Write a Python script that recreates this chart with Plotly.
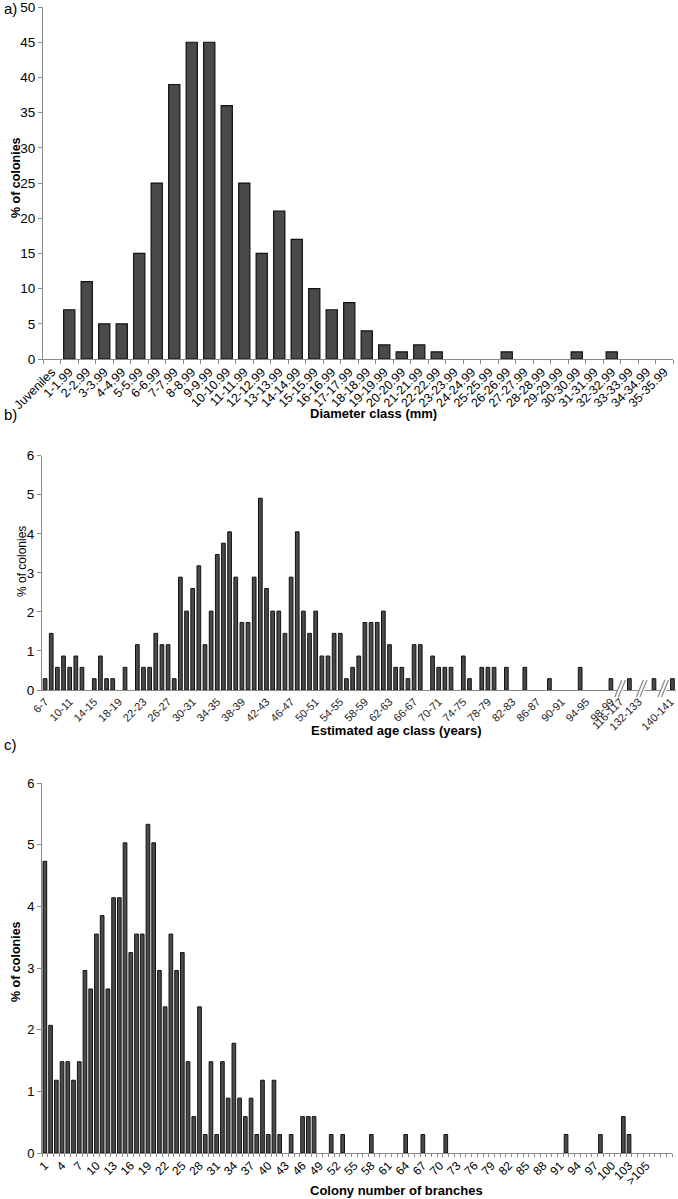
import plotly.graph_objects as go

W, H = 678, 1199

# ---------------- data ----------------
# a) diameter classes
diam_classes = ["Juveniles"] + [f"{i}-{i}.99" for i in range(1, 36)]
diam_pct = [0, 7, 11, 5, 5, 15, 25, 39, 45, 45, 36, 25, 15, 21, 17, 10, 7, 8, 4, 2,
            1, 2, 1, 0, 0, 0, 1, 0, 0, 0, 1, 0, 1, 0, 0, 0]

# b) estimated age classes ("" = axis-break gap)
age_classes = [f"{a}-{a+1}" for a in range(6, 99)] + ["", "", "116-117", "", "", "", "132-133", "", "", "140-141"]
age_pct = [0.29, 1.45, 0.58, 0.87, 0.58, 0.87, 0.58, 0, 0.29, 0.87,
           0.29, 0.29, 0, 0.58, 0, 1.16, 0.58, 0.58, 1.45, 1.16,
           1.16, 0.29, 2.89, 2.02, 2.60, 3.18, 1.16, 2.02, 3.47, 3.76,
           4.05, 2.89, 1.73, 1.73, 2.89, 4.91, 2.60, 2.02, 2.02, 1.45,
           2.89, 4.05, 2.02, 1.45, 2.02, 0.87, 0.87, 1.45, 1.45, 0.29,
           0.58, 0.87, 1.73, 1.73, 1.73, 2.02, 1.16, 0.58, 0.58, 0.29,
           1.16, 1.16, 0, 0.87, 0.58, 0.58, 0.58, 0, 0.87, 0.29,
           0, 0.58, 0.58, 0.58, 0, 0.58, 0, 0, 0.58, 0,
           0, 0, 0.29, 0, 0, 0, 0, 0.58, 0, 0,
           0, 0, 0.29,
           None, None, 0.29, None, None, None, 0.29, None, None, 0.29]
age_tick_labels = [f"{a}-{a+1}" for a in range(6, 99, 4)] + ["116-117", "132-133", "140-141"]

# c) colony number of branches
branch_classes = [str(i) for i in range(1, 106)] + [">105", "", "", "", ""]
branch_pct = [4.73, 2.07, 1.18, 1.48, 1.48, 1.18, 1.48, 2.96, 2.66, 3.55,
              3.85, 2.66, 4.14, 4.14, 5.03, 3.25, 3.55, 3.55, 5.33, 5.03,
              2.96, 2.37, 3.55, 2.96, 3.25, 1.48, 0.59, 2.37, 0.30, 1.48,
              0.30, 1.48, 0.89, 1.78, 0.89, 0.59, 0.89, 0.30, 1.18, 0.30,
              1.18, 0.30, 0, 0.30, 0, 0.59, 0.59, 0.59, 0, 0,
              0.30, 0, 0.30, 0, 0, 0, 0, 0.30, 0, 0,
              0, 0, 0, 0.30, 0, 0, 0.30, 0, 0, 0,
              0.30, 0, 0, 0, 0, 0, 0, 0, 0, 0,
              0, 0, 0, 0, 0, 0, 0, 0, 0, 0,
              0, 0.30, 0, 0, 0, 0, 0, 0.30, 0, 0,
              0, 0.59, 0.30, 0, 0, 0, 0, 0, 0, 0]

# ---------------- helpers ----------------
FONT = "Liberation Sans, Arial, Helvetica, sans-serif"
AXIS_GRAY = "#8a8a8a"
BAR_FILL = "#4a4a4a"
BAR_LINE = "#111111"


def hdom(x0, x1):
    return [x0 / W, x1 / W]


def vdom(y_top, y_bot):
    return [1 - y_bot / H, 1 - y_top / H]


def px_x(px):
    return px / W


def px_y(py):
    return 1 - py / H


def nz(vals):
    # empty classes draw no bar
    return [v if v else None for v in vals]


fig = go.Figure()

# panel geometry (pixels)
A_X = (43, 673); A_Y = (7, 359)
B_X = (42, 675.5); B_Y = (455.7, 690)
C_X = (42, 672); C_Y = (783, 1153)

# ---------------- traces ----------------
fig.add_trace(go.Bar(x=list(range(len(diam_classes))), y=nz(diam_pct), width=0.64,
                     marker=dict(color=BAR_FILL, line=dict(color=BAR_LINE, width=1.2)),
                     xaxis="x", yaxis="y", showlegend=False,
                     hovertext=diam_classes))
fig.add_trace(go.Bar(x=list(range(len(age_classes))), y=nz(age_pct), width=0.6,
                     marker=dict(color=BAR_FILL, line=dict(color=BAR_LINE, width=1)),
                     xaxis="x2", yaxis="y2", showlegend=False,
                     hovertext=age_classes))
fig.add_trace(go.Bar(x=list(range(len(branch_classes))), y=nz(branch_pct), width=0.64,
                     marker=dict(color=BAR_FILL, line=dict(color=BAR_LINE, width=1)),
                     xaxis="x3", yaxis="y3", showlegend=False,
                     hovertext=branch_classes))

# ---------------- axes ----------------
common_x = dict(showgrid=False, zeroline=False, showline=True, linecolor=AXIS_GRAY,
                linewidth=1, ticks="", tickangle=-45, fixedrange=True, automargin=False,
                ticklabeloverflow="allow")
common_y = dict(showgrid=False, zeroline=False, showline=True, linecolor=AXIS_GRAY,
                linewidth=1, ticks="outside", ticklen=4, tickcolor=AXIS_GRAY,
                fixedrange=True, automargin=False, ticklabeloverflow="allow")

nA = len(diam_classes)
fig.update_layout(
    xaxis=dict(common_x, domain=hdom(*A_X), range=[-0.5, nA - 0.5], anchor="y",
               tickmode="array", tickvals=list(range(nA)), ticktext=diam_classes,
               tickfont=dict(family=FONT, size=12.5, color="#000"),
               minor=dict(tickmode="array", tickvals=[i - 0.5 for i in range(nA + 1)],
                          ticks="outside", ticklen=4, tickcolor=AXIS_GRAY)),
    yaxis=dict(common_y, domain=vdom(*A_Y), range=[0, 50.01], anchor="x",
               tickmode="array", tickvals=list(range(0, 51, 5)),
               tickfont=dict(family=FONT, size=13.5, color="#000")),
)

nB = len(age_classes)
age_tick_pos = [age_classes.index(l) for l in age_tick_labels]
# post-break labels sit slightly left of their bars in the original
shift = {"116-117": -1.5, "132-133": -2.5, "140-141": -0.3}
age_tick_pos = [p + shift.get(l, 0) for p, l in zip(age_tick_pos, age_tick_labels)]
fig.update_layout(
    xaxis2=dict(common_x, domain=hdom(*B_X), range=[-0.5, nB - 0.5], anchor="y2",
                tickmode="array", tickvals=age_tick_pos, ticktext=age_tick_labels,
                tickfont=dict(family=FONT, size=11, color="#222")),
    yaxis2=dict(common_y, domain=vdom(*B_Y), range=[0, 6], anchor="x2",
                tickmode="linear", tick0=0, dtick=1,
                tickfont=dict(family=FONT, size=13.5, color="#000")),
)

nC = len(branch_classes)
c_tickvals = [i for i in range(nC) if branch_classes[i] and (i % 3 == 0)]
fig.update_layout(
    xaxis3=dict(common_x, domain=hdom(*C_X), range=[-0.5, nC - 0.5], anchor="y3",
                tickmode="array", tickvals=c_tickvals,
                ticktext=[branch_classes[i] for i in c_tickvals],
                tickfont=dict(family=FONT, size=12, color="#000"),
                minor=dict(tickmode="array", tickvals=[i - 0.5 for i in range(nC + 1)],
                           ticks="outside", ticklen=3, tickcolor=AXIS_GRAY)),
    yaxis3=dict(common_y, domain=vdom(*C_Y), range=[0, 6], anchor="x3",
                tickmode="linear", tick0=0, dtick=1,
                tickfont=dict(family=FONT, size=13, color="#000")),
)

# ---------------- axis-break marks in panel b ----------------
stepB = (B_X[1] - B_X[0]) / nB
runs, cur = [], []
for i, lab in enumerate(age_classes):
    if lab == "":
        cur.append(i)
    elif cur:
        runs.append(cur); cur = []
shapes = []
for run in runs:
    cx = B_X[0] + (sum(run) / len(run) + 0.5) * stepB
    shapes.append(dict(type="rect", xref="paper", yref="paper",
                       x0=px_x(cx - 3), x1=px_x(cx + 3), y0=px_y(B_Y[1] + 1.5), y1=px_y(B_Y[1] - 1.5),
                       fillcolor="white", line=dict(width=0), layer="above"))
    for dx in (-1.8, 1.8):
        shapes.append(dict(type="line", xref="paper", yref="paper",
                           x0=px_x(cx + dx - 3.5), y0=px_y(B_Y[1] + 7),
                           x1=px_x(cx + dx + 3.5), y1=px_y(B_Y[1] - 10),
                           line=dict(color="#8c8c8c", width=1.3), layer="above"))

# ---------------- text ----------------
ann = []


def text(x, y, s, size=13, bold=False, angle=0, xanchor="center", yanchor="middle", color="#000"):
    ann.append(dict(x=px_x(x), y=px_y(y), xref="paper", yref="paper", text=(f"<b>{s}</b>" if bold else s),
                    showarrow=False, textangle=angle, xanchor=xanchor, yanchor=yanchor,
                    font=dict(family=FONT, size=size, color=color)))


text(2, 9, "a)", size=15, xanchor="left")
text(2, 414, "b)", size=15, xanchor="left")
text(2, 744, "c)", size=15, xanchor="left")

text(16, 178, "% of colonies", size=12.5, bold=True, angle=-90)
text(22, 562, "% of colonies", size=12, angle=-90)
text(16, 962, "% of colonies", size=12.5, bold=True, angle=-90)

text(308, 413, "Diameter class (mm)", size=13, bold=True, xanchor="left")
text(309, 730, "Estimated age class (years)", size=13, bold=True, xanchor="left")
text(308, 1190, "Colony number of branches", size=13, bold=True, xanchor="left")

fig.update_layout(
    width=W, height=H, margin=dict(l=0, r=0, t=0, b=0, autoexpand=False),
    paper_bgcolor="white", plot_bgcolor="white",
    annotations=ann, shapes=shapes, bargap=0, showlegend=False,
    font=dict(family=FONT),
)

fig.write_html("out.html",
               config={"displayModeBar": False, "staticPlot": True},
               post_script="document.body.style.margin='0';document.body.style.padding='0';"
                           "document.body.style.overflow='hidden';")
